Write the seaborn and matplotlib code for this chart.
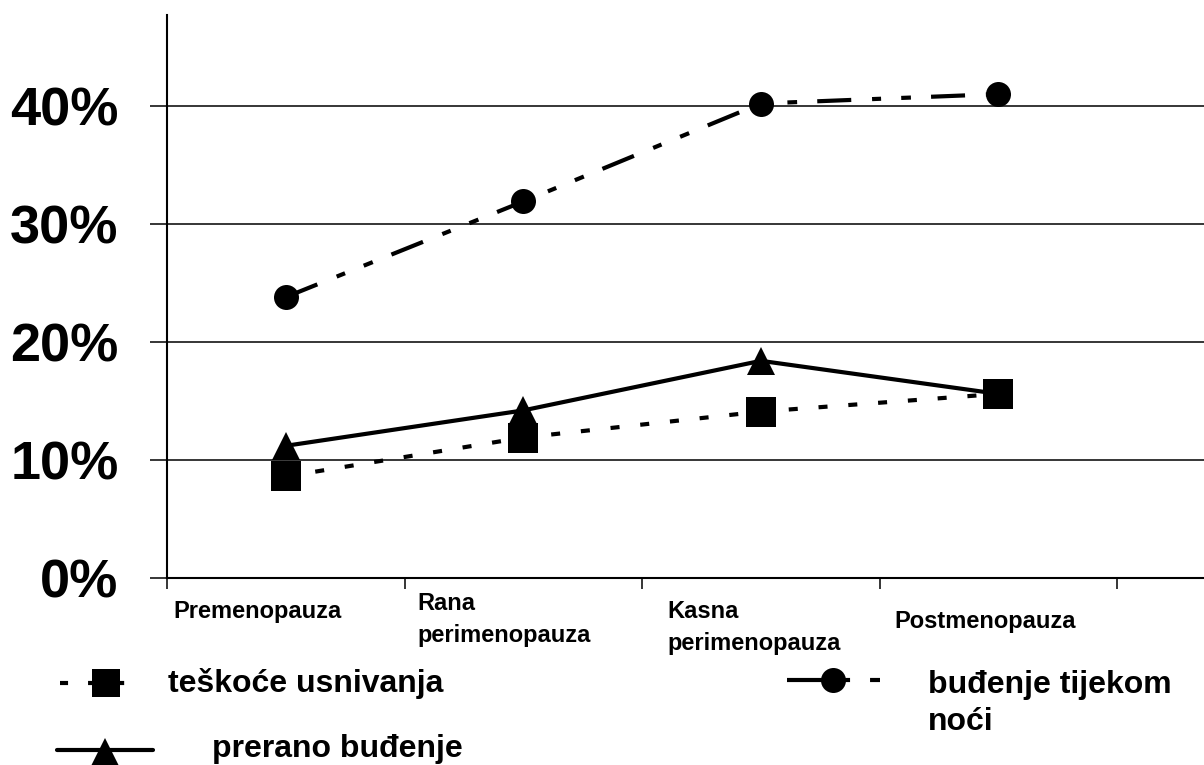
import numpy as np
import pandas as pd
import matplotlib
matplotlib.use('Agg')
import matplotlib.pyplot as plt
import matplotlib.transforms as mtransforms
from matplotlib.lines import Line2D
import seaborn as sns

# %%
faze = ['Premenopauza', 'Rana\nperimenopauza', 'Kasna\nperimenopauza', 'Postmenopauza']
teskoce_usnivanja = [8.6, 11.9, 14.1, 15.6]
prerano_budenje = [11.2, 14.2, 18.4, 15.6]
budenje_nocu = [23.8, 31.9, 40.2, 41.0]
y_ticks = [0, 10, 20, 30, 40]
y_labels = ['0%', '10%', '20%', '30%', '40%']

pos = np.arange(len(faze))
df = pd.DataFrame({'pos': pos, 'teskoce': teskoce_usnivanja,
                   'prerano': prerano_budenje, 'budenje': budenje_nocu})

# %%
sns.set_style('white')
plt.rcParams['font.family'] = ['Liberation Sans', 'DejaVu Sans']
plt.rcParams['font.weight'] = 'bold'
plt.rcParams['text.color'] = 'black'
plt.rcParams['ytick.color'] = 'black'
plt.rcParams['xtick.color'] = 'black'
plt.rcParams['lines.scale_dashes'] = False

W, H = 1204, 765
fig = plt.figure(figsize=(W / 100, H / 100), dpi=100)
ax = fig.add_axes([167 / W, 1 - 578 / H, 1 - 167 / W, (578 - 15) / H])

# line styles (points)
ls_teskoce = (0, (6.5, 15))
ls_budenje = (0, (24.5, 15, 6.5, 14.5, 7, 14.5))

sns.lineplot(data=df, x='pos', y='prerano', ax=ax, color='black', lw=3,
             marker='^', markersize=20, mec='black', mew=0, sort=False)
sns.lineplot(data=df, x='pos', y='teskoce', ax=ax, color='black', lw=3,
             linestyle=ls_teskoce, marker='s', markersize=21, mec='black',
             mew=0, sort=False)
sns.lineplot(data=df, x='pos', y='budenje', ax=ax, color='black', lw=3,
             linestyle=ls_budenje, marker='o', markersize=18, mec='black',
             mew=0, sort=False)

ax.set_xlim(-0.5, 3.5 + 87 / 238)
ax.set_ylim(0, 47.7)
ax.set_xlabel('')
ax.set_ylabel('')

for s in ['top', 'right']:
    ax.spines[s].set_visible(False)
for s in ['left', 'bottom']:
    ax.spines[s].set_color('black')
    ax.spines[s].set_linewidth(1.5)

ax.set_yticks(y_ticks)
ax.set_yticklabels(y_labels, fontsize=39, fontweight='bold', color='black')
ax.tick_params(axis='y', length=12, width=1.1, color='black', pad=23,
               left=True, direction='out')
ax.yaxis.grid(True, color='black', lw=1.1)
ax.set_axisbelow(True)

ax.set_xticks(np.arange(-0.5, 4, 1))
ax.set_xticklabels([])
ax.tick_params(axis='x', length=8, width=1.1, color='black', bottom=True,
               direction='out')

# category labels, left aligned under each category
lbl_shift = [-0.475, -0.445, -0.395, -0.44]
lbl_top = [600, 592, 600, 610]
tr = mtransforms.blended_transform_factory(ax.transData, fig.transFigure)
for p, name, dx, top in zip(pos, faze, lbl_shift, lbl_top):
    ax.text(p + dx, 1 - top / H, name, transform=tr, ha='left', va='top',
            fontsize=17, fontweight='bold', linespacing=1.5, color='black')

# legend keys drawn by hand
px = fig.transFigure


def key(x0, x1, y, ls, marker, xm, ms, ym=None):
    fig.add_artist(Line2D([x0 / W, x1 / W], [1 - y / H, 1 - y / H], color='black',
                          lw=3, linestyle=ls, transform=px))
    yy = y if ym is None else ym
    fig.add_artist(Line2D([xm / W], [1 - yy / H], color='black', lw=0,
                          marker=marker, markersize=ms, mew=0, transform=px))


key(60, 128, 683, (0, (5.8, 14.4)), 's', 106, 20)
key(57, 153, 750, '-', '^', 105, 20, ym=752)
key(787, 880, 680, (0, (45.4, 14.4, 7.2, 14.4)), 'o', 833, 18)

fig.text(168 / W, 1 - 692 / H, 'teškoće usnivanja', fontsize=23,
         fontweight='bold', va='baseline', color='black')
fig.text(212 / W, 1 - 757 / H, 'prerano buđenje', fontsize=23,
         fontweight='bold', va='baseline', color='black')
fig.text(928 / W, 1 - 730 / H, 'buđenje tijekom\nnoći', fontsize=23,
         fontweight='bold', va='baseline', linespacing=1.3, color='black')

fig.savefig('out.png', dpi=100, facecolor='white')
